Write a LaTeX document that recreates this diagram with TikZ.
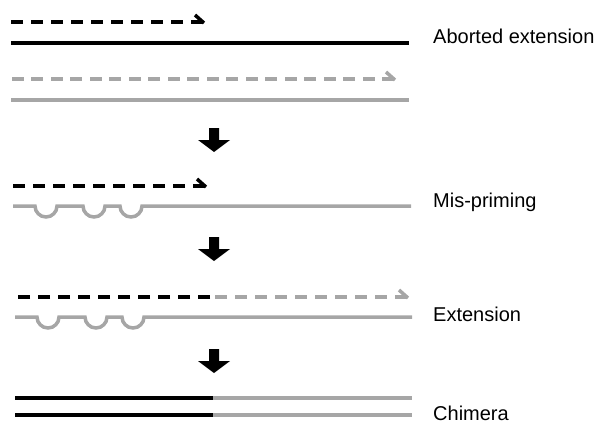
\documentclass[tikz,border=0pt]{standalone}
\usepackage{fontspec}
\setmainfont{Liberation Sans}

\definecolor{strandgray}{RGB}{166,166,166}

\tikzset{
  strand/.style={line width=3.5pt},
  newstrand/.style={line width=3.5pt, dash pattern=on 12pt off 8pt},
  barb/.style={line width=3.5pt},
  steplabel/.style={anchor=base west, inner sep=0pt, font=\fontsize{20}{24}\selectfont},
}

\begin{document}
\begin{tikzpicture}[x=1pt, y=-1pt]
    \useasboundingbox (0,0) rectangle (595,423);

    % aborted extension
    \draw[newstrand] (203,22) -- (11,22);
    \draw[barb] (204,23) -- ++(-9,-8);
    \draw[strand] (11,43) -- (409,43);
    \draw[newstrand, strandgray, dash pattern=on 12pt off 7.5pt] (394,79) -- (11.5,79);
    \draw[barb, strandgray] (395,80) -- ++(-9,-8);
    \draw[strand, strandgray] (11,100) -- (409,100);
    \node[steplabel] (aborted) at (433,43) {Aborted extension};

    % mis-priming
    \draw[newstrand] (205,186) -- (13,186);
    \draw[barb] (206,187) -- ++(-9,-8);
    \draw[strand, strandgray] (13,206) -- (35,206)
      arc[start angle=180, end angle=360, radius=11pt] -- (83,206)
      arc[start angle=180, end angle=360, radius=11pt] -- (120,206)
      arc[start angle=180, end angle=360, radius=11pt] -- (411,206);
    \node[steplabel] (mispriming) at (433,207) {Mis-priming};

    % extension
    \draw[newstrand] (210,297) -- (18,297);
    \draw[newstrand, strandgray] (407,297) -- (215,297);
    \draw[barb, strandgray] (408,298) -- ++(-9,-8);
    \draw[strand, strandgray] (15,317) -- (37,317)
      arc[start angle=180, end angle=360, radius=11pt] -- (85,317)
      arc[start angle=180, end angle=360, radius=11pt] -- (122,317)
      arc[start angle=180, end angle=360, radius=11pt] -- (412,317);
    \node[steplabel] (extension) at (433,321) {Extension};

    % chimera
    \foreach \y in {398,415} {
      \draw[strand] (15,\y) -- (213,\y);
      \draw[strand, strandgray] (213,\y) -- (412,\y);
    }
    \node[steplabel] (chimera) at (433,420) {Chimera};

    % step arrows
    \foreach \y in {128,237,349}
      \fill (209,\y) -- (219,\y) -- (219,\y+12) -- (230,\y+12)
        -- (214,\y+24) -- (198,\y+12) -- (209,\y+12) -- cycle;
\end{tikzpicture}
\end{document}
